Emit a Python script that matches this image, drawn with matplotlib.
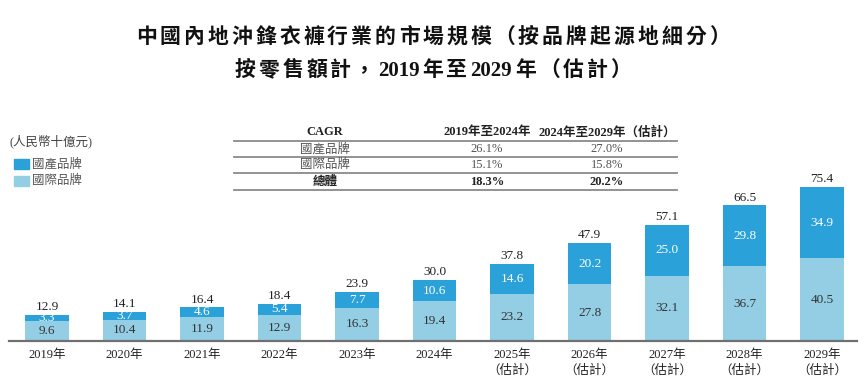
import matplotlib
matplotlib.use("Agg")
import matplotlib.pyplot as plt
from matplotlib.lines import Line2D
import numpy as np
import re

plt.rcParams['font.family'] = ['Liberation Serif', 'Noto Sans CJK TC', 'DejaVu Sans']

years = ["2019年", "2020年", "2021年", "2022年", "2023年", "2024年",
         "2025年\n（估計）", "2026年\n（估計）", "2027年\n（估計）", "2028年\n（估計）", "2029年\n（估計）"]
international = [9.6, 10.4, 11.9, 12.9, 16.3, 19.4, 23.2, 27.8, 32.1, 36.7, 40.5]
domestic = [3.3, 3.7, 4.6, 5.4, 7.7, 10.6, 14.6, 20.2, 25.0, 29.8, 34.9]
totals = [12.9, 14.1, 16.4, 18.4, 23.9, 30.0, 37.8, 47.9, 57.1, 66.5, 75.4]

cagr_header = ["CAGR", "2019年至2024年", "2024年至2029年（估計）"]
cagr_rows = ["國產品牌", "國際品牌", "總體"]
cagr_hist = ["26.1%", "15.1%", "18.3%"]
cagr_fcst = ["27.0%", "15.8%", "20.2%"]

title1 = "中國內地沖鋒衣褲行業的市場規模（按品牌起源地細分）"
title2 = "按零售額計，2019年至2029年（估計）"

W, H = 865, 387
fig = plt.figure(figsize=(W/100, H/100), dpi=100)
renderer = fig.canvas.get_renderer()

def fx(px):
    return px / W

def fy(py):
    return 1 - py / H

def spaced_text(s, cx, cy, gap, **kw):
    tokens = re.findall(r"[0-9A-Za-z.%]+|.", s)
    texts = []
    widths = []
    for t in tokens:
        tt = fig.text(0, fy(cy), t, ha="left", va="center", **kw)
        w = tt.get_window_extent(renderer).width
        texts.append(tt)
        widths.append(w)
    total = sum(widths) + gap * (len(tokens) - 1)
    xpos = cx - total / 2
    for tt, w in zip(texts, widths):
        tt.set_x(fx(xpos))
        xpos += w + gap

C_DARK = "#2BA1DA"
C_LIGHT = "#93CEE4"

ymax = 85
ax_h = ymax * 2.04
ax = fig.add_axes([fx(9), fy(341), fx(857 - 9), ax_h / H])
x = np.arange(len(years))
bw = 0.56
ax.bar(x, international, bw, color=C_LIGHT, zorder=2)
ax.bar(x, domestic, bw, bottom=international, color=C_DARK, zorder=2)
ax.set_xlim(-0.49, 10.45)
ax.set_ylim(0, ymax)
for s in ["top", "right", "left"]:
    ax.spines[s].set_visible(False)
ax.spines["bottom"].set_color("#707070")
ax.spines["bottom"].set_linewidth(1.6)
ax.set_yticks([])
ax.set_xticks(x)
ax.set_xticklabels(years, fontsize=9, color="#222222", linespacing=1.3)
ax.tick_params(axis="x", length=0, pad=6)

for i in range(len(x)):
    ax.text(x[i], international[i] / 2, f"{international[i]:.1f}", ha="center", va="center",
            fontsize=9.5, color="#333333")
    ax.text(x[i], international[i] + domestic[i] / 2, f"{domestic[i]:.1f}", ha="center", va="center",
            fontsize=9.5, color="white")
    ax.text(x[i], totals[i] + 0.9, f"{totals[i]:.1f}", ha="center", va="bottom",
            fontsize=9.5, color="#222222")

# title with letter spacing
spaced_text(title1, 433, 38, 3.0, fontsize=15, fontweight="bold", color="#111111")
spaced_text(title2, 433, 71, 3.0, fontsize=15, fontweight="bold", color="#111111")

# unit and legend
fig.text(fx(9), fy(141), "(人民幣十億元)", ha="left", va="center", fontsize=9, color="#444444")
for yy, col, lab in [(164, C_DARK, "國產品牌"), (181, C_LIGHT, "國際品牌")]:
    fig.patches.append(plt.Rectangle((fx(14), fy(yy + 5)), fx(15), 10 / H, color=col,
                                     transform=fig.transFigure, figure=fig))
    fig.text(fx(32), fy(yy), lab, ha="left", va="center", fontsize=9, color="#555555")

# CAGR table
col_x = [325, 487, 607]
for k in range(3):
    fig.text(fx(col_x[k]), fy(132), cagr_header[k], ha="center", va="center", fontsize=9,
             fontweight="bold", color="#222222")
for ly in [141, 157, 173, 190]:
    fig.add_artist(Line2D([fx(234), fx(677)], [fy(ly), fy(ly)], color="#8a8a8a", lw=1.3,
                          transform=fig.transFigure))
row_y = [149, 165, 182]
for j in range(3):
    bold = "bold" if j == 2 else "normal"
    col = "#222222" if j == 2 else "#555555"
    fig.text(fx(col_x[0]), fy(row_y[j]), cagr_rows[j], ha="center", va="center", fontsize=9, fontweight=bold, color=col)
    fig.text(fx(col_x[1]), fy(row_y[j]), cagr_hist[j], ha="center", va="center", fontsize=9, fontweight=bold, color=col)
    fig.text(fx(col_x[2]), fy(row_y[j]), cagr_fcst[j], ha="center", va="center", fontsize=9, fontweight=bold, color=col)

fig.savefig("out.png", dpi=100)
